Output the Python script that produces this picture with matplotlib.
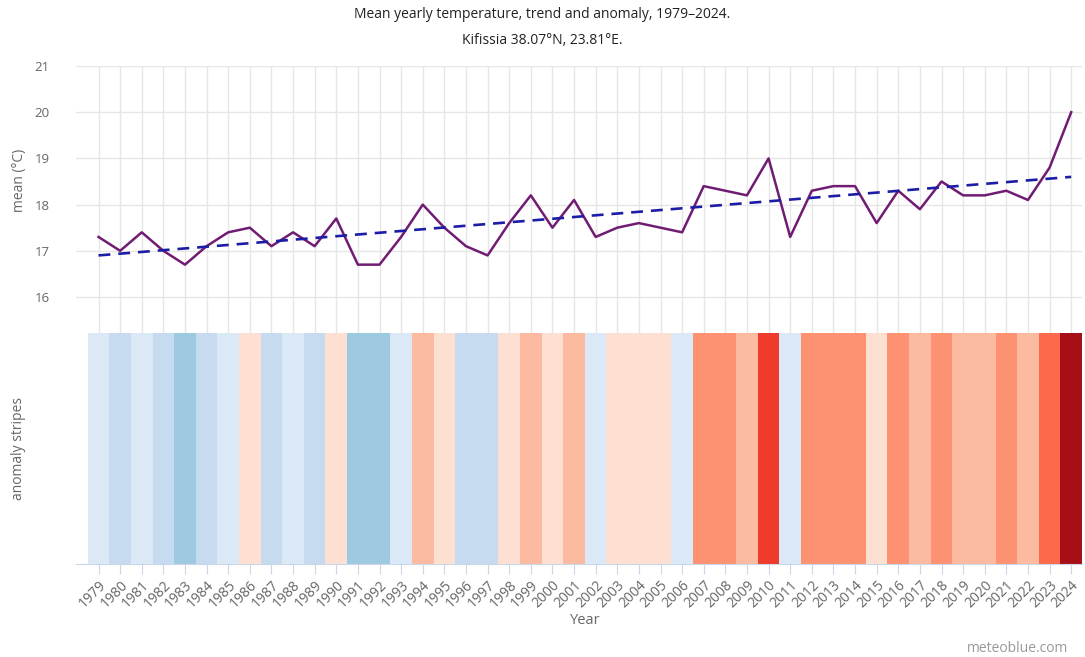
import numpy as np
import matplotlib
matplotlib.use("Agg")
import matplotlib.pyplot as plt
from matplotlib.colors import ListedColormap, BoundaryNorm

# yearly mean temperature, Kifissia
years = list(range(1979, 2025))
mean_temp = [17.3, 17.0, 17.4, 17.0, 16.7, 17.1, 17.4, 17.5, 17.1, 17.4,
             17.1, 17.7, 16.7, 16.7, 17.3, 18.0, 17.5, 17.1, 16.9, 17.6,
             18.2, 17.5, 18.1, 17.3, 17.5, 17.6, 17.5, 17.4, 18.4, 18.3,
             18.2, 19.0, 17.3, 18.3, 18.4, 18.4, 17.6, 18.3, 17.9, 18.5,
             18.2, 18.2, 18.3, 18.1, 18.8, 20.0]
trend_years = [1979, 2024]
trend_temp = [16.9, 18.6]

# stripe colour classes
stripe_bounds = [15.0, 16.8, 17.2, 17.45, 17.8, 18.25, 18.65, 18.95, 19.5, 21.0]
stripe_colors = ["#9ecae1", "#c6dbef", "#dbe9f6", "#fee0d2", "#fcbba1",
                 "#fc9272", "#fb6a4a", "#ef3b2c", "#a50f15"]

W, H = 1085, 657
fig = plt.figure(figsize=(W / 100, H / 100), dpi=100)
plt.rcParams['font.family'] = ['Open Sans', 'DejaVu Sans']

grey = "#666666"
grid = "#e6e6e6"
x_left = 76
x_right = 1082
xmin = 1979 - (98.5 - x_left) / 21.6
xmax = 2024.5

def px_axes(l, t, r, b):
    return fig.add_axes([l / W, 1 - b / H, (r - l) / W, (b - t) / H])

# top panel: mean and trend
ax1 = px_axes(x_left, 66, x_right, 333)
ax1.plot(years, mean_temp, color="#701c73", lw=1.8, zorder=3)
ax1.plot(trend_years, trend_temp, color="#1c1ca6", lw=1.9, ls=(0, (4.5, 3)), zorder=4)
ax1.set_xlim(xmin, xmax)
ax1.set_ylim(21 - (333 - 66) / 46.2, 21)
ax1.set_yticks([16, 17, 18, 19, 20, 21])
ax1.set_xticks(years)
ax1.grid(True, color=grid, lw=1)
ax1.set_axisbelow(True)
ax1.tick_params(axis="y", length=0, pad=19, labelsize=9.5, labelcolor=grey)
ax1.tick_params(axis="x", length=0, labelbottom=False)
for s in ax1.spines.values():
    s.set_visible(False)

# bottom panel: anomaly stripes
cmap = ListedColormap(stripe_colors)
norm = BoundaryNorm(stripe_bounds, cmap.N)
ax2 = px_axes(x_left, 333, x_right, 564)
ax2.bar(years, 1, width=1.0, bottom=0, color=cmap(norm(mean_temp)), linewidth=0)
ax2.set_xlim(xmin, xmax)
ax2.set_ylim(0, 1)
ax2.set_yticks([])
ax2.set_xticks(years)
ax2.set_xticklabels([str(y) for y in years], rotation=45, ha="right",
                    rotation_mode="anchor", fontsize=10, color=grey)
ax2.tick_params(axis="x", length=7, color="#ccd6eb", pad=3)
for k in ["top", "left", "right"]:
    ax2.spines[k].set_visible(False)
ax2.spines["bottom"].set_color("#ccd6eb")

fig.text(542 / W, 1 - 15 / H, "Mean yearly temperature, trend and anomaly, 1979\u20132024.",
         ha="center", va="center", fontsize=10, color="#222222")
fig.text(542 / W, 1 - 40 / H, "Kifissia 38.07\u00b0N, 23.81\u00b0E.",
         ha="center", va="center", fontsize=10, color="#222222")
fig.text(20 / W, 1 - 180 / H, "mean (\u00b0C)", rotation=90, ha="center", va="center",
         fontsize=10, color=grey)
fig.text(18 / W, 1 - 448 / H, "anomaly stripes", rotation=90, ha="center", va="center",
         fontsize=10, color=grey)
fig.text(585 / W, 1 - 620 / H, "Year", ha="center", va="center", fontsize=10.5, color=grey)
fig.text(1068 / W, 1 - 648 / H, "meteoblue.com", ha="right", va="center",
         fontsize=10, color="#999999")

fig.savefig("out.png", dpi=100)
